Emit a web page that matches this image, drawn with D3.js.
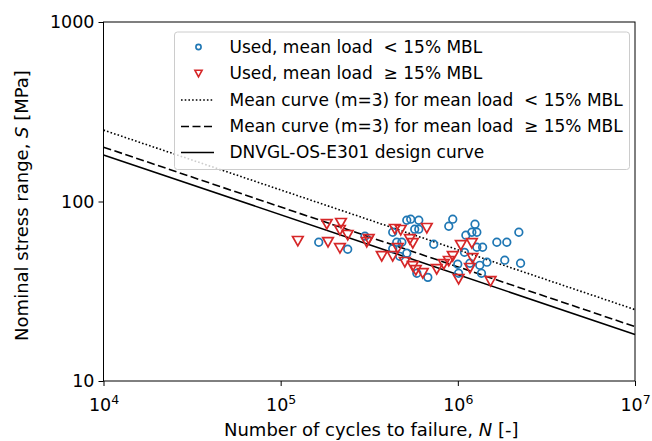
<!DOCTYPE html>
<html>
<head>
<meta charset="utf-8">
<script src="https://d3js.org/d3.v7.min.js"></script>
<style>
    body { margin: 0; background: #fff; }
    svg { font-family: "DejaVu Sans", sans-serif; }
</style>
</head>
<body>
<div id="graph"></div>
<script>
// used chains, mean load < 15% MBL (blue circles)
var lowN = [1.64e5, 2.39e5, 2.99e5, 4.29e5, 4.52e5, 4.83e5, 4.29e5, 4.70e5,
            5.15e5, 5.42e5, 6.02e5, 5.71e5, 6.02e5, 5.15e5, 5.87e5, 6.77e5,
            7.31e5, 8.89e5, 9.36e5, 1.11e6, 1.20e6, 1.25e6, 1.28e6, 1.28e6,
            1.38e6, 1.09e6, 9.99e5, 1.17e6, 1.33e6, 1.46e6, 1.66e6, 1.89e6,
            2.21e6, 1.84e6, 2.26e6, 1.01e6, 1.36e6];
var lowS = [59.3, 54.2, 64.1, 67.4, 59.3, 59.3, 54.6, 49.5,
            78.6, 79.7, 78.6, 70.1, 70.1, 51.5, 39.8, 37.8,
            57.8, 72.8, 79.7, 64.9, 67.4, 74.7, 67.4, 55.6,
            55.6, 52.1, 44.7, 45.3, 44.1, 45.9, 59.3, 59.3,
            67.4, 47.1, 45.3, 39.8, 39.8];

// used chains, mean load >= 15% MBL (red triangles)
var highN = [1.25e5, 1.82e5, 2.19e5, 2.16e5, 2.39e5, 1.85e5, 2.16e5, 3.06e5,
             3.14e5, 3.72e5, 4.29e5, 4.41e5, 4.76e5, 4.58e5, 5.36e5, 5.57e5,
             6.68e5, 1.04e6, 1.20e6, 9.36e5, 8.89e5, 8.33e5, 7.60e5, 5.57e5,
             5.79e5, 6.34e5, 1.21e6, 1.17e6, 1.01e6, 1.53e6, 5.02e5];
var highS = [60.1, 74.7, 75.7, 69.2, 64.9, 59.3, 54.9, 59.3,
             61.6, 49.5, 49.5, 70.1, 69.2, 54.9, 61.6, 58.5,
             71.0, 57.0, 58.5, 49.5, 46.5, 44.7, 41.9, 43.5,
             41.4, 39.8, 48.3, 42.5, 36.9, 35.9, 45.9];

// S-N curves N = a * S^-m
var curveNames = ["Mean curve (m=3) for mean load  < 15% MBL",
                  "Mean curve (m=3) for mean load  \u2265 15% MBL",
                  "DNVGL-OS-E301 design curve"];
var curveA = [1.56e11, 8.1e10, 6.0e10];
var curveM = 3;

var xTicks = [1e4, 1e5, 1e6, 1e7];
var xTickExp = ["4", "5", "6", "7"];
var yTicks = [10, 100, 1000];

var W = 652, H = 441;
var margin = {top: 22, right: 17, bottom: 60, left: 103.5};
var width = W - margin.left - margin.right,
    height = H - margin.top - margin.bottom;

var svg = d3.select("#graph").append("svg")
    .attr("width", W).attr("height", H);
var g = svg.append("g")
    .attr("transform", "translate(" + margin.left + "," + margin.top + ")");

var x = d3.scaleLog().domain([1e4, 1e7]).range([0, width]);
var y = d3.scaleLog().domain([10, 1000]).range([height, 0]);

// curves
var dashes = ["1.6,2.1", "8,3.5", null];
curveA.forEach(function(a, i) {
    var pts = [1e4, 1e7].map(function(n) { return [n, Math.pow(a / n, 1 / curveM)]; });
    g.append("path")
        .attr("d", d3.line().x(function(d) { return x(d[0]); }).y(function(d) { return y(d[1]); })(pts))
        .attr("fill", "none")
        .attr("stroke", "#000")
        .attr("stroke-width", 1.6)
        .attr("stroke-dasharray", dashes[i]);
});

function tri(w, h) {
    return "M0," + h + "L" + (-w) + "," + (-h) + "L" + w + "," + (-h) + "Z";
}

// points
g.selectAll(".low").data(lowN).enter().append("circle")
    .attr("cx", function(d) { return x(d); })
    .attr("cy", function(d, i) { return y(lowS[i]); })
    .attr("r", 3.8)
    .attr("fill", "none")
    .attr("stroke", "#1f77b4")
    .attr("stroke-width", 1.7);

g.selectAll(".high").data(highN).enter().append("path")
    .attr("transform", function(d, i) { return "translate(" + x(d) + "," + y(highS[i]) + ")"; })
    .attr("d", tri(5.3, 4.7))
    .attr("fill", "none")
    .attr("stroke", "#d62728")
    .attr("stroke-width", 1.7);

// frame
g.append("rect").attr("width", width).attr("height", height)
    .attr("fill", "none").attr("stroke", "#000").attr("stroke-width", 1);

// axes
var xAxis = g.append("g").attr("transform", "translate(0," + height + ")")
    .call(d3.axisBottom(x).tickValues(xTicks).tickSize(5).tickFormat(""));
var yAxis = g.append("g")
    .call(d3.axisLeft(y).tickValues(yTicks).tickSize(5).tickFormat(d3.format("d")));
[xAxis, yAxis].forEach(function(a) {
    a.select(".domain").remove();
    a.selectAll(".tick line").attr("stroke", "#000");
});
yAxis.selectAll(".tick text").attr("font-size", 17.5).attr("fill", "#000")
    .attr("font-family", "DejaVu Sans").attr("x", -9);

var xl = xAxis.selectAll(".tick").append("text")
    .attr("y", 30).attr("fill", "#000").attr("text-anchor", "middle")
    .attr("font-size", 17.5).attr("font-family", "DejaVu Sans");
xl.append("tspan").text("10");
xl.append("tspan").attr("dy", -7.5).attr("font-size", 12.5)
    .text(function(d, i) { return xTickExp[i]; });

// axis titles
var xt = svg.append("text")
    .attr("x", margin.left + width / 2 + 2).attr("y", 436)
    .attr("text-anchor", "middle").attr("font-size", 18);
xt.append("tspan").text("Number of cycles to failure, ");
xt.append("tspan").attr("font-style", "italic").text("N");
xt.append("tspan").text(" [-]");

var yt = svg.append("text")
    .attr("transform", "translate(28," + (margin.top + height / 2 + 4) + ") rotate(-90)")
    .attr("text-anchor", "middle").attr("font-size", 18);
yt.append("tspan").text("Nominal stress range, ");
yt.append("tspan").attr("font-style", "italic").text("S");
yt.append("tspan").text(" [MPa]");

// legend
var lg = svg.append("g");
lg.append("rect")
    .attr("x", 174.5).attr("y", 32).attr("width", 455).attr("height", 137.5)
    .attr("rx", 3).attr("fill", "#fff").attr("fill-opacity", 0.8)
    .attr("stroke", "#ccc").attr("stroke-width", 1);

var legendLabels = ["Used, mean load  < 15% MBL", "Used, mean load  \u2265 15% MBL"].concat(curveNames);
var rowY = [47, 73.5, 100, 126.5, 152.5];
legendLabels.forEach(function(t, i) {
    lg.append("text").attr("x", 229.5).attr("y", rowY[i]).attr("dy", "0.35em")
        .attr("font-size", 17).attr("fill", "#000")
        .style("white-space", "pre").text(t);
});
lg.append("circle").attr("cx", 198.5).attr("cy", rowY[0]).attr("r", 2.6)
    .attr("fill", "none").attr("stroke", "#1f77b4").attr("stroke-width", 1.6);
lg.append("path").attr("transform", "translate(198.5," + rowY[1] + ")")
    .attr("d", tri(3.6, 3.3)).attr("fill", "none")
    .attr("stroke", "#d62728").attr("stroke-width", 1.6);
dashes.forEach(function(d, i) {
    lg.append("line").attr("x1", 181).attr("x2", 214)
        .attr("y1", rowY[i + 2]).attr("y2", rowY[i + 2])
        .attr("stroke", "#000").attr("stroke-width", 1.6)
        .attr("stroke-dasharray", d);
});
</script>
</body>
</html>
